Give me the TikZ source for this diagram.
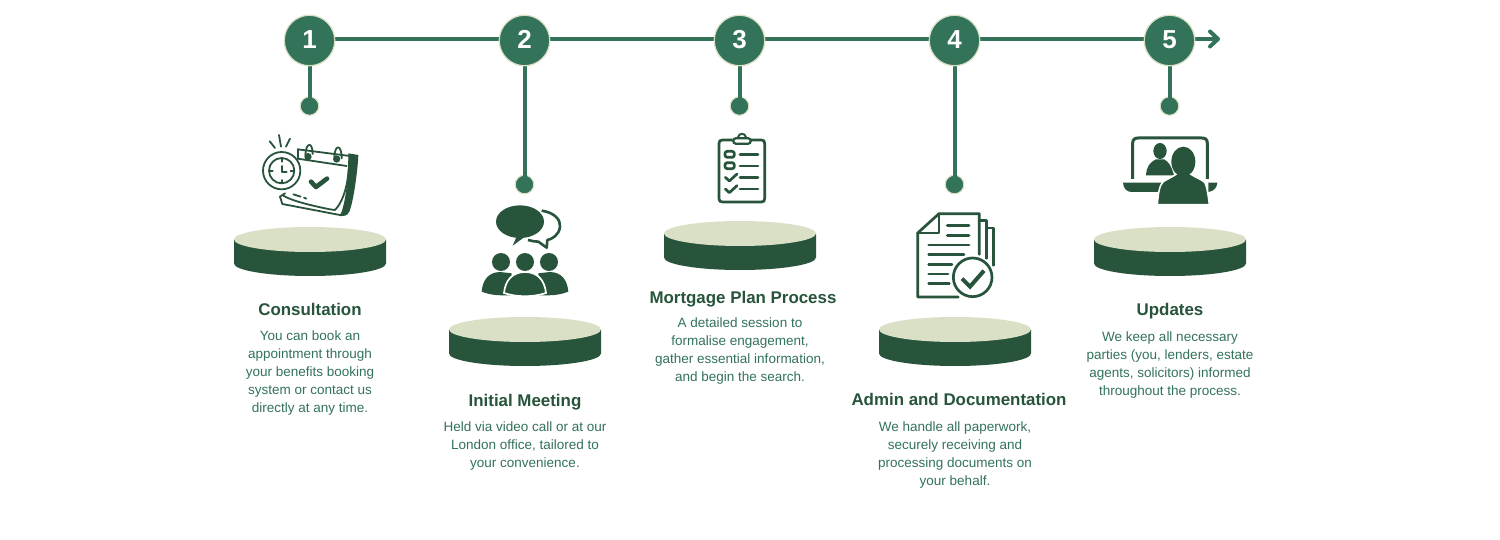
\documentclass[tikz,border=0pt]{standalone}
\usepackage{fontspec}
\setmainfont{Liberation Sans}
\usetikzlibrary{arrows.meta}
\definecolor{gmid}{HTML}{33735A}
\definecolor{gdark}{HTML}{27543B}
\definecolor{gpale}{HTML}{D9E0C5}
\newcommand{\stepnum}[1]{\raisebox{1.3pt}{#1}}
\tikzset{
  numcircle/.style={circle,fill=gmid,draw=gpale,line width=1.2pt,minimum size=50.5pt,inner sep=0pt,text=white,font=\fontsize{26}{26}\selectfont\bfseries},
  dotnode/.style={circle,fill=gmid,draw=gpale,line width=1.2pt,minimum size=18.5pt,inner sep=0pt},
  link/.style={draw=gmid,line width=4pt},
  headtxt/.style={text=gdark,font=\fontsize{16.9}{20}\selectfont\bfseries,anchor=base,inner sep=0pt},
  bodytxt/.style={text=gmid,font=\fontsize{13.5}{18}\selectfont,align=center,anchor=north,inner sep=0pt},
  icol/.style={draw=gdark,line width=2.7pt,line cap=round,line join=round,fill=none},
  icothin/.style={draw=gdark,line width=1.8pt,line cap=round,line join=round,fill=none},
  zoomed/.style={shift={(#1)},x=0.33333pt,y=-0.33333pt},
  podium/.pic={
    \fill[gdark] (-76,0) -- (-76,24) arc[start angle=180,end angle=360,x radius=76,y radius=-12.5] -- (76,0) -- cycle;
    \fill[gpale] (0,0) ellipse[x radius=76,y radius=12.5];
  }
}
\begin{document}
\begin{tikzpicture}[x=1pt,y=-1pt]
\useasboundingbox (0,0) rectangle (1500,540);
\fill[white] (0,0) rectangle (1500,540);

% connectors first
\coordinate (arrowend) at (1220,39);
\coordinate (arrowshaft) at (1216,39);
\coordinate (c1p) at (309.5,40.5);
\coordinate (c2p) at (524.5,40.5);
\coordinate (c3p) at (739.5,40.5);
\coordinate (c4p) at (954.5,40.5);
\coordinate (c5p) at (1169.5,40.5);
\node[dotnode] (d1) at (309.5,106) {};
\node[dotnode] (d2) at (524.5,184.5) {};
\node[dotnode] (d3) at (739.5,106) {};
\node[dotnode] (d4) at (954.5,184.5) {};
\node[dotnode] (d5) at (1169.5,106) {};
\draw[link] (c1p |- arrowend) -- (c5p |- arrowend);
\draw[link] (c5p |- arrowend) -- (arrowshaft);
\draw[link,-{Straight Barb[length=8pt,width=15pt,line width=4pt,round]}] (c5p |- arrowend) -- (arrowend);
\foreach \i in {1,...,5} \draw[link] (c\i p) -- (d\i.center);
\foreach \i in {1,...,5} \fill[gmid] (d\i) circle[radius=8.4];
\node[numcircle] (c1) at (c1p) {\stepnum{1}};
\node[numcircle] (c2) at (c2p) {\stepnum{2}};
\node[numcircle] (c3) at (c3p) {\stepnum{3}};
\node[numcircle] (c4) at (c4p) {\stepnum{4}};
\node[numcircle] (c5) at (c5p) {\stepnum{5}};

% podiums
\pic at (310,239.5) {podium};
\pic at (525,329.5) {podium};
\pic at (740,233.5) {podium};
\pic at (955,329.5) {podium};
\pic at (1170,239.5) {podium};

% texts
\node[headtxt] (h1) at (310,316) {Consultation};
\node[bodytxt] (b1) at (310,331) {You can book an\\appointment through\\your benefits booking\\system or contact us\\directly at any time.};
\node[headtxt] (h2) at (525,406) {Initial Meeting};
\node[bodytxt] (b2) at (525,422) {Held via video call or at our\\London office, tailored to\\your convenience.};
\node[headtxt] (h3) at (743,303) {Mortgage Plan Process};
\node[bodytxt] (b3) at (740,318) {A detailed session to\\formalise engagement,\\gather essential information,\\and begin the search.};
\node[headtxt] (h4) at (959,405) {Admin and Documentation};
\node[bodytxt] (b4) at (955,422) {We handle all paperwork,\\securely receiving and\\processing documents on\\your behalf.};
\node[headtxt] (h5) at (1170,316) {Updates};
\node[bodytxt] (b5) at (1170,332) {We keep all necessary\\parties (you, lenders, estate\\agents, solicitors) informed\\throughout the process.};

% icon 1: clock and calendar
\begin{scope}[zoomed={230,0}]
  % calendar
  \fill[gdark] (355,460) -- (385,465) .. controls (384,500) and (372,600) .. (358,635) .. controls (352,648) and (340,650) .. (330,646) -- (335,635) .. controls (350,590) and (355,520) .. (355,460) -- cycle;
  \draw[icothin] (203,448) -- (360,468) -- (355,520) .. controls (350,570) and (335,610) .. (315,630) -- (300,628) .. controls (260,620) and (190,605) .. (160,587);
  \draw[icothin] (203,448) -- (203,476);
  \draw[icothin] (203,476) -- (350,498);
  \draw[icothin] (150,590) -- (157,612) -- (335,646);
  \draw[icothin] (165,580) -- (150,590);
  \draw[icothin] (190,583) -- (212,590) (222,593) -- (229,596);
  \fill[gdark] (234,470) circle[radius=11];
  \fill[gdark] (320,477) circle[radius=11];
  \draw[icothin] (226,465) .. controls (228,425) and (248,425) .. (248,462);
  \draw[icothin] (313,470) .. controls (315,432) and (335,432) .. (335,475);
  \draw[draw=gdark,line width=4.6pt,line cap=round,line join=round] (243,545) -- (258,561) -- (291,536);
  % clock
  \draw[icothin,fill=white] (155,512) circle[radius=56];
  \draw[icothin] (155,512) circle[radius=38];
  \draw[icothin] (155,475) -- (155,485) (155,540) -- (155,549) (118,512) -- (128,512) (182,512) -- (192,512) (155,498) -- (155,515) -- (170,515);
  \draw[icothin] (147,405) -- (153,440);
  \draw[icothin] (119,424) -- (135,444) (180,416) -- (168,440);
\end{scope}

% icon 2: meeting
\begin{scope}[zoomed={440,190}]
  \draw[draw=gdark,line width=2.6pt,line join=round] (305,62) .. controls (345,68) and (362,90) .. (360,110) .. controls (358,135) and (335,148) .. (322,150) -- (320,173) -- (295,155) .. controls (285,155) and (275,153) .. (264,150);
  \fill[gdark] (240,95) ellipse[x radius=72,y radius=49];
  \fill[gdark] (232,135) -- (218,167) -- (255,140) -- cycle;
  \fill[gdark] (183,216) circle[radius=27];
  \fill[gdark] (255,216) circle[radius=27];
  \fill[gdark] (327,216) circle[radius=27];
  \fill[gdark] (125,305) .. controls (128,270) and (145,247) .. (180,246) -- (215,250) -- (215,316) -- (187,316) .. controls (165,316) and (145,313) .. (125,305) -- cycle;
  \fill[gdark] (385,305) .. controls (382,270) and (365,247) .. (330,246) -- (295,250) -- (295,316) -- (323,316) .. controls (345,316) and (365,313) .. (385,305) -- cycle;
  \fill[gdark,draw=white,line width=1.7pt] (192,309) .. controls (196,270) and (218,246) .. (255,246) .. controls (292,246) and (314,270) .. (318,309) .. controls (280,322) and (230,322) .. (192,309) -- cycle;
\end{scope}

% icon 3: clipboard
\begin{scope}[zoomed={660,120}]
  \draw[draw=gdark,line width=2.7pt,line join=round] (218,60) -- (188,60) .. controls (180,60) and (177,63) .. (177,70) -- (177,236) .. controls (177,243) and (180,246) .. (188,246) -- (304,246) .. controls (311,246) and (314,243) .. (314,236) -- (314,70) .. controls (314,63) and (311,60) .. (304,60) -- (272,60);
  \draw[draw=gdark,line width=2pt] (234,52) .. controls (236,38) and (256,38) .. (258,52);
  \draw[draw=gdark,line width=2.2pt,fill=white,rounded corners=2.4pt] (220,55) rectangle (272,71);
  \draw[icol,rounded corners=2.2pt] (195,94) rectangle (223,112);
  \draw[icol,rounded corners=2.2pt] (195,128) rectangle (223,146);
  \draw[icol] (240,103) -- (294,103) (240,138) -- (294,138) (240,172) -- (294,172) (240,207) -- (294,207);
  \draw[icol] (196,172) -- (208,183) -- (231,162);
  \draw[icol] (196,207) -- (208,218) -- (231,197);
\end{scope}

% icon 4: documents
\begin{scope}[zoomed={880,200}]
  \draw[icol] (235,291) -- (113,291) -- (113,99) -- (177,41) -- (298,41) -- (298,163);
  \draw[icol] (177,41) -- (177,99) -- (113,99);
  \draw[icol] (298,62) -- (319,62) -- (319,175);
  \draw[icol] (319,84) -- (340,84) -- (340,196);
  \draw[icol] (202,77) -- (267,77) (202,106) -- (267,106) (146,135) -- (267,135) (146,164) -- (252,164) (146,193) -- (216,193) (146,222) -- (204,222) (146,251) -- (208,251);
  \draw[draw=gdark,line width=2.7pt] (278,232) circle[radius=58];
  \draw[draw=gdark,line width=4pt,line join=miter] (246,236) -- (270,260) -- (312,212);
\end{scope}

% icon 5: video call
\begin{scope}[zoomed={1090,0}]
  \draw[draw=gdark,line width=3pt,line join=round] (128,537) -- (128,430) .. controls (128,418) and (134,414) .. (145,414) -- (335,414) .. controls (346,414) and (352,418) .. (352,430) -- (352,537);
  \fill[gdark] (99,548) -- (215,548) -- (205,576) -- (125,576) .. controls (110,576) and (100,565) .. (99,548) -- cycle;
  \fill[gdark] (355,548) -- (382,548) .. controls (381,562) and (372,574) .. (355,576) -- cycle;
  \fill[gdark] (210,453) ellipse[x radius=20,y radius=24];
  \fill[gdark] (168,526) .. controls (170,500) and (178,488) .. (198,478) -- (222,478) .. controls (235,485) and (243,495) .. (252,526) -- cycle;
  \fill[gdark,draw=white,line width=1.5pt] (202,614) .. controls (205,580) and (208,555) .. (220,545) .. controls (235,535) and (250,530) .. (262,520) -- (298,520) .. controls (315,532) and (335,538) .. (345,548) .. controls (352,565) and (355,590) .. (358,614) -- cycle;
  \fill[gdark] (280,485) ellipse[x radius=36,y radius=45];
\end{scope}
\end{tikzpicture}
\end{document}
